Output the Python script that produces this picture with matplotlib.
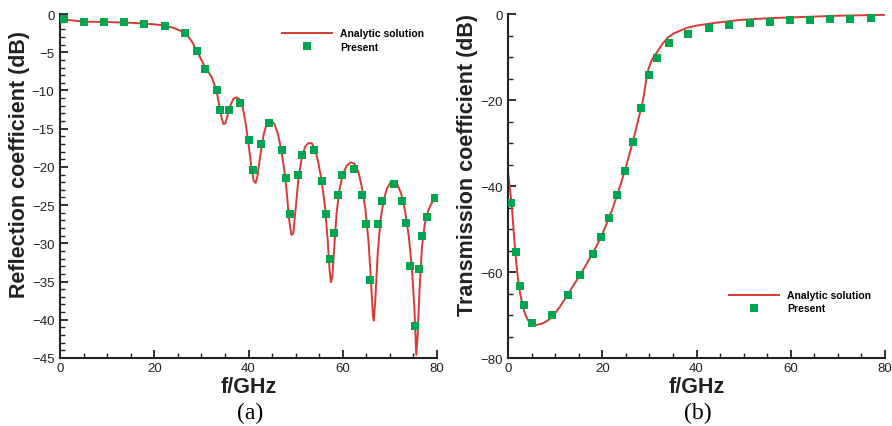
import matplotlib.pyplot as plt
from matplotlib.ticker import MultipleLocator

plt.rcParams['font.family'] = ['Liberation Sans', 'DejaVu Sans']

# (a) reflection coefficient: analytic curve
refl_f = [0, 2, 5, 10, 15, 20, 22, 24, 26, 27, 28, 29, 30, 30.8, 31.5, 32.2,
          32.8, 33.3, 33.8, 34.3, 34.7, 35.1, 35.6, 36.2, 36.8, 37.5, 38.2,
          38.8, 39.4, 40.0, 40.6, 41.1, 41.5, 41.9, 42.5, 43.2, 43.8, 44.4,
          44.9, 45.5, 46.2, 46.9, 47.6, 48.1, 48.6, 49.1, 49.5, 50.0, 50.6,
          51.3, 52.0, 52.7, 53.4, 54.1, 54.8, 55.5, 56.2, 56.8, 57.2, 57.5,
          57.8, 58.2, 58.7, 59.3, 60.0, 60.8, 61.7, 62.5, 63.3, 64.0, 64.8,
          65.5, 66.0, 66.4, 66.6, 66.9, 67.4, 68.0, 68.7, 69.4, 70.2, 70.9,
          71.6, 72.4, 73.2, 74.0, 74.7, 75.2, 75.6, 75.9, 76.3, 76.8, 77.4,
          78.1, 78.8, 79.6]
refl_db = [-0.5, -0.8, -1.0, -1.05, -1.15, -1.35, -1.5, -1.8, -2.3, -2.8, -3.6,
           -4.8, -6.0, -7.0, -7.6, -8.3, -9.3, -10.3, -12.0, -13.6, -14.4,
           -14.3, -13.2, -11.9, -11.1, -10.9, -11.2, -12.3, -14.3, -17.0,
           -20.0, -21.8, -22.1, -21.2, -18.5, -15.8, -14.5, -14.05, -14.0,
           -14.4, -15.6, -17.6, -20.4, -23.2, -26.8, -28.9, -28.7, -25.5,
           -21.5, -18.8, -17.4, -16.9, -16.9, -17.6, -19.4, -21.7, -25.0,
           -29.5, -33.5, -35.1, -34.3, -30.5, -26.0, -23.0, -21.0, -19.9,
           -19.4, -19.6, -20.6, -22.5, -25.5, -30.0, -35.0, -39.5, -40.1,
           -37.5, -31.5, -27.0, -24.3, -22.8, -22.0, -21.9, -22.3, -23.5,
           -25.7, -29.0, -33.5, -38.5, -44.6, -42.0, -36.0, -30.5, -27.5,
           -25.8, -24.8, -24.1]

# (a) reflection coefficient: present method
refl_f_pts = [0.9, 5.1, 9.3, 13.6, 17.8, 22.3, 26.5, 29.1, 30.8, 33.3, 34.0,
              35.8, 38.3, 40.0, 40.9, 42.6, 44.3, 47.1, 47.9, 48.8, 50.5,
              51.4, 53.9, 55.6, 56.4, 57.3, 58.1, 59.0, 59.8, 62.4, 64.1,
              64.9, 65.8, 67.5, 68.3, 70.9, 72.6, 73.4, 74.3, 75.3, 76.2,
              76.9, 77.8, 79.6]
refl_db_pts = [-0.6, -1.0, -1.0, -1.1, -1.3, -1.6, -2.5, -4.9, -7.2, -9.9,
               -12.5, -12.5, -11.7, -16.5, -20.4, -17.0, -14.2, -17.8, -21.4,
               -26.2, -21.1, -18.5, -17.8, -21.9, -26.1, -32.1, -28.6, -23.7,
               -21.1, -20.3, -23.7, -27.5, -34.8, -27.5, -24.4, -22.3, -24.4,
               -27.4, -33.0, -40.8, -33.3, -29.0, -26.5, -24.1]

# (b) transmission coefficient: analytic curve
trans_f = [0, 0.4, 0.8, 1.2, 1.6, 2.0, 2.5, 3.1, 3.7, 4.3, 5.0, 6.0, 7.0, 8.0,
           9.0, 10.0, 11.0, 12.0, 13.0, 14.0, 15.0, 16.0, 17.0, 18.0, 19.0,
           20.0, 21.0, 22.0, 23.0, 24.0, 25.0, 26.0, 27.0, 28.0, 28.7, 29.3,
           29.8, 30.5, 31.6, 32.8, 34.0, 35.2, 36.5, 38.0, 40.0, 43.6, 49.0,
           55.0, 60.0, 65.0, 70.0, 75.0, 80.0]
trans_db = [-36.8, -40.5, -44.5, -50.5, -56.0, -60.5, -64.5, -67.8, -70.0,
            -71.3, -72.0, -72.3, -72.1, -71.6, -70.8, -69.6, -68.1, -66.4,
            -64.7, -62.9, -61.2, -59.4, -57.5, -55.6, -53.5, -51.2, -48.6,
            -45.8, -42.7, -39.3, -35.6, -31.7, -27.5, -23.0, -19.8, -15.5,
            -12.8, -10.7, -8.9, -6.9, -5.4, -4.5, -3.9, -3.2, -2.7, -2.1,
            -1.4, -1.0, -0.8, -0.6, -0.4, -0.3, -0.2]

# (b) transmission coefficient: present method
trans_f_pts = [0.6, 1.7, 2.5, 3.3, 5.1, 9.3, 12.7, 15.3, 18.0, 19.7, 21.4,
               23.2, 24.8, 26.5, 28.2, 29.9, 31.6, 34.1, 38.3, 42.6, 47.0,
               51.4, 55.6, 59.8, 64.1, 68.3, 72.6, 77.0]
trans_db_pts = [-44.0, -55.4, -63.2, -67.7, -71.9, -69.9, -65.3, -60.8, -55.7,
                -51.8, -47.4, -42.2, -36.4, -29.7, -21.9, -14.3, -10.2, -6.7,
                -4.6, -3.2, -2.5, -2.0, -1.8, -1.5, -1.3, -1.1, -1.1, -0.9]

line_color = '#d93a35'
mark_color = '#00a54f'

fig = plt.figure(figsize=(8.92, 4.27), dpi=100)
ax1 = fig.add_axes([60 / 892, 68 / 427, 377 / 892, 344 / 427])
ax2 = fig.add_axes([508 / 892, 68 / 427, 377 / 892, 344 / 427])


def style_axes(ax, ylim, ymajor, yminor):
    ax.set_xlim(0, 80)
    ax.set_ylim(*ylim)
    ax.xaxis.set_major_locator(MultipleLocator(20))
    ax.xaxis.set_minor_locator(MultipleLocator(5))
    ax.yaxis.set_major_locator(MultipleLocator(ymajor))
    ax.yaxis.set_minor_locator(MultipleLocator(yminor))
    for side in ('top', 'right'):
        ax.spines[side].set_visible(False)
    for side in ('left', 'bottom'):
        ax.spines[side].set_linewidth(1.5)
        ax.spines[side].set_color('#222222')
    ax.tick_params(which='major', direction='in', length=6, width=1.3,
                   labelsize=9.5, colors='#222222')
    ax.tick_params(which='minor', direction='in', length=3.3, width=1.0,
                   colors='#222222')
    ax.tick_params(axis='x', which='major', pad=3)
    ax.tick_params(axis='y', which='major', pad=4)


def add_legend(ax, anchor):
    ax.legend(loc='upper left', bbox_to_anchor=anchor, frameon=False,
              handlelength=4.8, handletextpad=0.8, labelspacing=0.3,
              borderpad=0, borderaxespad=0,
              prop={'weight': 'bold', 'size': 7.5})


ax1.plot(refl_f, refl_db, color=line_color, lw=1.4, label='Analytic solution',
         zorder=2)
ax1.plot(refl_f_pts, refl_db_pts, 's', color=mark_color, ms=5.8, mew=0,
         label='Present', zorder=3)
style_axes(ax1, (-45, 0), 5, 1)
add_legend(ax1, (0.589, 0.958))

ax2.plot(trans_f, trans_db, color=line_color, lw=1.4, label='Analytic solution',
         zorder=2)
ax2.plot(trans_f_pts, trans_db_pts, 's', color=mark_color, ms=5.8, mew=0,
         label='Present', zorder=3)
style_axes(ax2, (-80, 0), 20, 5)
add_legend(ax2, (0.586, 0.197))

label_font = {'size': 15.5, 'weight': 'bold', 'color': '#222222'}
fig.text(20 / 892, 1 - 165 / 427, 'Reflection coefficient (dB)', rotation=90,
         ha='center', va='center', fontdict=label_font)
fig.text(467 / 892, 1 - 165 / 427, 'Transmission coefficient (dB)',
         rotation=90, ha='center', va='center', fontdict=label_font)
fig.text(248.5 / 892, 1 - 388 / 427, 'f/GHz', ha='center', va='center',
         fontdict=label_font)
fig.text(697 / 892, 1 - 388 / 427, 'f/GHz', ha='center', va='center',
         fontdict=label_font)

fig.text(250 / 892, 1 - 413 / 427, '(a)', ha='center', va='center',
         family='Liberation Serif', size=17)
fig.text(698 / 892, 1 - 413 / 427, '(b)', ha='center', va='center',
         family='Liberation Serif', size=17)

fig.savefig('out.png', dpi=100)
plt.close(fig)
